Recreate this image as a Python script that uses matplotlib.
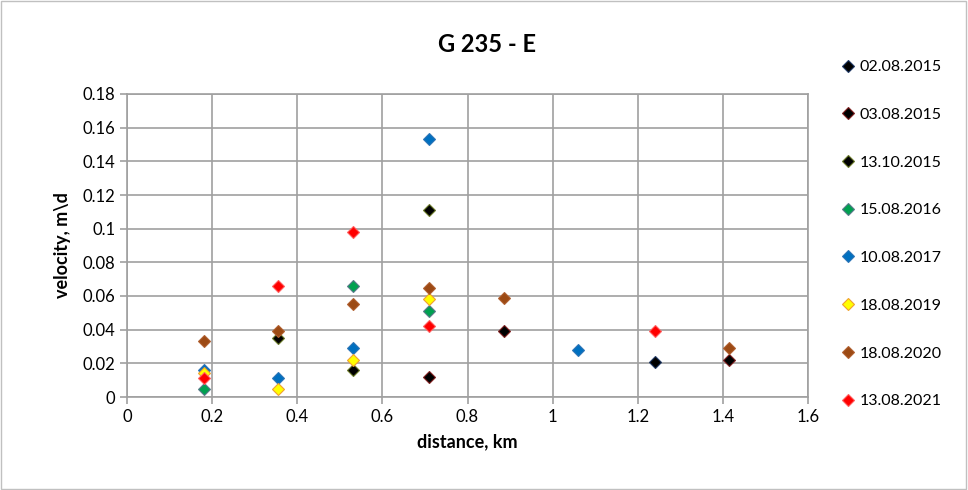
import matplotlib.pyplot as plt
from matplotlib.lines import Line2D

plt.rcParams['font.family'] = ['Lato', 'DejaVu Sans']

# series: (label, x values km, velocity m/d)
labels = ['02.08.2015', '03.08.2015', '13.10.2015', '15.08.2016',
          '10.08.2017', '18.08.2019', '18.08.2020', '13.08.2021']

x_0208_2015 = [1.24]
v_0208_2015 = [0.021]
x_0308_2015 = [0.71, 0.885, 1.415]
v_0308_2015 = [0.012, 0.039, 0.022]
x_1310_2015 = [0.355, 0.53, 0.71]
v_1310_2015 = [0.035, 0.016, 0.111]
x_1508_2016 = [0.18, 0.53, 0.71]
v_1508_2016 = [0.005, 0.066, 0.051]
x_1008_2017 = [0.18, 0.355, 0.53, 0.71, 1.06]
v_1008_2017 = [0.016, 0.011, 0.029, 0.153, 0.028]
x_1808_2019 = [0.18, 0.355, 0.53, 0.71]
v_1808_2019 = [0.014, 0.005, 0.022, 0.058]
x_1808_2020 = [0.18, 0.355, 0.53, 0.71, 0.885, 1.415]
v_1808_2020 = [0.033, 0.039, 0.055, 0.065, 0.059, 0.029]
x_1308_2021 = [0.18, 0.355, 0.53, 0.71, 1.24]
v_1308_2021 = [0.011, 0.066, 0.098, 0.042, 0.039]

xs = [x_0208_2015, x_0308_2015, x_1310_2015, x_1508_2016,
      x_1008_2017, x_1808_2019, x_1808_2020, x_1308_2021]
vs = [v_0208_2015, v_0308_2015, v_1310_2015, v_1508_2016,
      v_1008_2017, v_1808_2019, v_1808_2020, v_1308_2021]
faces = ['#000000', '#000000', '#000000', '#00A050',
         '#0070C0', '#FFFF00', '#9C4A14', '#FF0000']
edges = ['#1F3864', '#7F2020', '#6B7A2A', '#5A7A8A',
         '#2E75B6', '#F0A030', '#B06030', '#FF6060']

fig = plt.figure(figsize=(9.68, 4.9), dpi=100)
ax = fig.add_axes([127 / 968, 1 - 397 / 490, (808 - 127) / 968, (397 - 94) / 490])

for x, v, fc, ec, lab in zip(xs, vs, faces, edges, labels):
    ax.plot(x, v, linestyle='none', marker='D', markersize=6.5,
            markerfacecolor=fc, markeredgecolor=ec, markeredgewidth=0.8,
            label=lab, zorder=3)

ax.set_xlim(0, 1.6)
ax.set_ylim(0, 0.18)
ax.set_xticks([0, 0.2, 0.4, 0.6, 0.8, 1, 1.2, 1.4, 1.6])
ax.set_xticklabels(['0', '0.2', '0.4', '0.6', '0.8', '1', '1.2', '1.4', '1.6'])
ax.set_yticks([0, 0.02, 0.04, 0.06, 0.08, 0.1, 0.12, 0.14, 0.16, 0.18])
ax.set_yticklabels(['0', '0.02', '0.04', '0.06', '0.08', '0.1', '0.12',
                    '0.14', '0.16', '0.18'])
ax.grid(True, color='#A0A0A0', linewidth=1.2)
ax.set_axisbelow(True)
for s in ax.spines.values():
    s.set_color('#A0A0A0')
    s.set_linewidth(1.2)
ax.tick_params(axis='both', colors='#A0A0A0', labelcolor='#000000',
               labelsize=12, length=5, width=1.2)

ax.set_xlabel('distance, km', fontsize=13, fontweight='bold', labelpad=6)
ax.set_ylabel('velocity, m\\d', fontsize=13, fontweight='bold', labelpad=8)
fig.text(487 / 968, 1 - 45 / 490, 'G 235 - E', fontsize=17, fontweight='bold',
         ha='center', va='center')

handles = [Line2D([], [], linestyle='none', marker='D', markersize=6,
                  markerfacecolor=fc, markeredgecolor=ec, markeredgewidth=0.8)
           for fc, ec in zip(faces, edges)]
fig.legend(handles, labels, loc='upper left', bbox_to_anchor=(842 / 968, 1 - 60 / 490),
           frameon=False, fontsize=11.5, handlelength=0.8, handletextpad=0.3,
           labelspacing=2.1, borderaxespad=0, borderpad=0)

# outer chart border
fig.patches.append(plt.Rectangle((0.001, 0.002), 0.997, 0.996, transform=fig.transFigure,
                                 fill=False, edgecolor='#C0C0C0', linewidth=1))

fig.savefig('out.png', dpi=100)
